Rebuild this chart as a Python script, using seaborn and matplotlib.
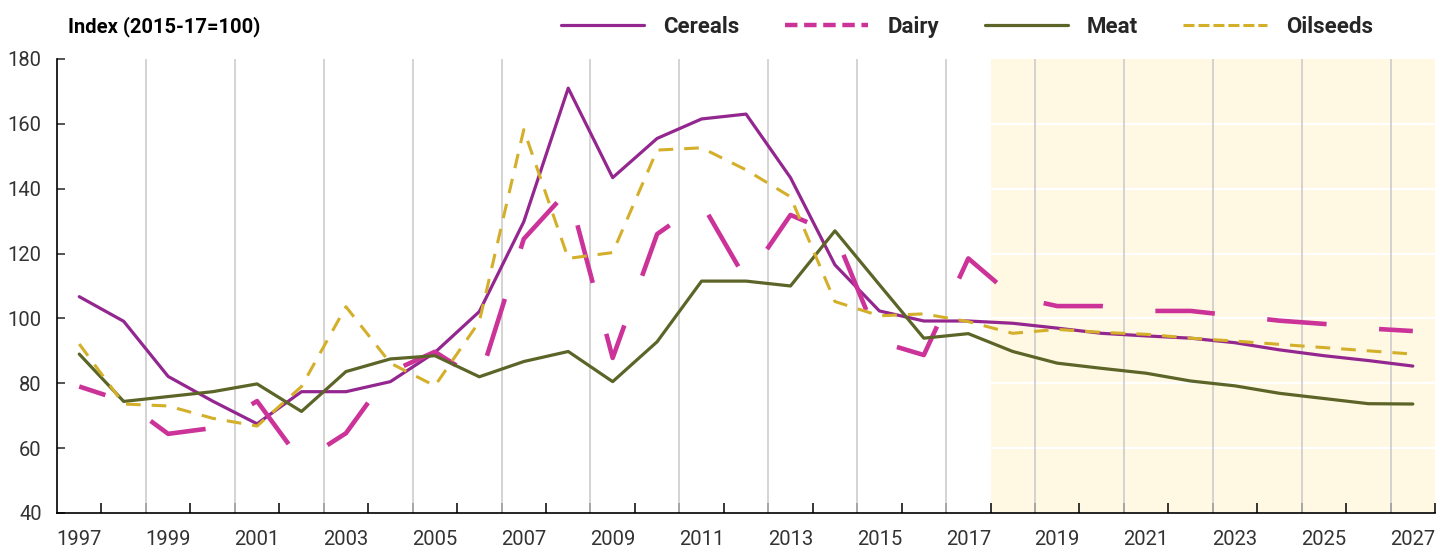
import matplotlib
matplotlib.use("Agg")
import matplotlib.pyplot as plt
from matplotlib.lines import Line2D
import numpy as np
import pandas as pd
import seaborn as sns

sns.set_style("white")
plt.rcParams["font.family"] = ["Roboto", "DejaVu Sans"]

years = list(range(1997, 2028))

cereals = [106.7, 99.1, 82.1, 74.5, 67.5, 77.4, 77.4, 80.5, 89.5, 102.1,
           129.8, 171.0, 143.4, 155.5, 161.5, 163.0, 143.4, 116.5, 102.3, 99.2,
           99.2, 98.5, 97.0, 95.4, 94.6, 93.9, 92.5, 90.3, 88.5, 87.0, 85.3]
dairy = [79.0, 74.5, 64.4, 66.2, 74.5, 55.8, 64.6, 83.5, 89.7, 81.0,
         124.5, 139.5, 87.8, 126.0, 135.6, 111.9, 131.9, 126.0, 92.8, 88.7,
         118.5, 106.8, 103.8, 103.8, 102.3, 102.3, 100.8, 99.3, 98.3, 96.9, 96.1]
meat = [89.0, 74.4, 75.9, 77.4, 79.8, 71.3, 83.6, 87.5, 88.5, 82.0,
        86.7, 89.8, 80.5, 92.8, 111.5, 111.5, 110.0, 127.0, 110.4, 93.9,
        95.3, 89.8, 86.2, 84.6, 83.1, 80.7, 79.2, 76.9, 75.3, 73.7, 73.6]
oilseeds = [92.1, 73.6, 73.0, 69.2, 66.8, 79.0, 103.6, 86.2, 79.2, 99.0,
            158.2, 118.5, 120.3, 151.9, 152.6, 145.8, 137.5, 105.2, 100.8, 101.4,
            99.0, 95.4, 96.6, 95.7, 95.1, 93.9, 93.0, 92.0, 91.0, 90.0, 89.0]

series_names = ["Cereals", "Dairy", "Meat", "Oilseeds"]
series_values = [cereals, dairy, meat, oilseeds]
colors = ["#93278F", "#CC3399", "#5C6428", "#D4AF2A"]
widths = [2.3, 3.3, 2.3, 2.2]
# plot dash patterns (offset, (on, off)) in linewidth units
plot_styles = ["-", (7.0, (13.0, 11.5)), "-", (0, (4.8, 3.6))]
legend_styles = ["-", (0, (2.8, 1.5)), "-", (0, (3.6, 1.3))]

yticks = [40, 60, 80, 100, 120, 140, 160, 180]
label_years = years[::2]

fig = plt.figure(figsize=(14.51, 5.51), dpi=100)
ax = fig.add_axes([0.0393, 0.069, 0.9497, 0.824])

ax.axvspan(2017.5, 2027.5, color="#FFF8E3", zorder=0, lw=0)
for yv in yticks[1:-1]:
    ax.axhline(yv, color="white", lw=1.6, zorder=0.5)
for xv in np.arange(1998.5, 2027, 2):
    ax.axvline(xv, color="#C9C9C9", lw=1.1, zorder=0.6)

for name, vals, col, lw, ls in zip(series_names, series_values, colors, widths, plot_styles):
    df = pd.DataFrame({"year": years, "value": vals})
    sns.lineplot(data=df, x="year", y="value", ax=ax, color=col, lw=lw, zorder=3)
    ax.get_lines()[-1].set_linestyle(ls)

ax.set_xlim(1996.5, 2027.5)
ax.set_ylim(40, 180)
ax.set_xlabel("")
ax.set_ylabel("")

ax.set_xticks(label_years)
ax.set_xticklabels([str(y) for y in label_years])
ax.set_xticks(np.arange(1997.5, 2028, 1), minor=True)
ax.tick_params(axis="x", which="major", length=0, pad=12, labelsize=14.5,
               labelcolor="#333333")
ax.tick_params(axis="x", which="minor", direction="in", length=7, width=1.1,
               color="black", bottom=True)
ax.set_yticks(yticks)
ax.tick_params(axis="y", direction="in", length=6, width=1.1, pad=11,
               labelsize=14.5, labelcolor="#333333", left=True)

for s in ["top", "right"]:
    ax.spines[s].set_visible(False)
for s in ["left", "bottom"]:
    ax.spines[s].set_color("black")
    ax.spines[s].set_linewidth(1.2)

fig.text(0.0468, 0.951, "Index (2015-17=100)", fontsize=14.5, fontweight="bold",
         va="center", ha="left", color="black")

handles = [Line2D([0], [0], color=c, lw=w if n != "Dairy" else 3.2, linestyle=ls)
           for n, c, w, ls in zip(series_names, colors, widths, legend_styles)]
leg = fig.legend(handles, series_names, loc="center right",
                 bbox_to_anchor=(0.946, 0.951), ncol=4, frameon=False,
                 handlelength=3.75, handletextpad=0.85, columnspacing=2.05,
                 borderpad=0, borderaxespad=0,
                 prop={"size": 16, "weight": "bold"})

fig.savefig("out.png", dpi=100)
